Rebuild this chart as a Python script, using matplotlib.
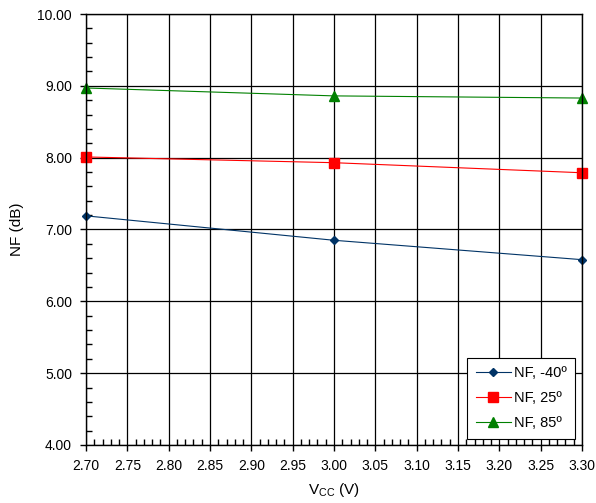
## NF vs VCC at three temperatures
import numpy as np
from matplotlib import pyplot as plt
from matplotlib.ticker import MultipleLocator, FormatStrFormatter

plt.rcParams['font.family'] = ['Liberation Sans', 'DejaVu Sans']

## values
vcc = [2.70, 3.00, 3.30]
nf_m40 = [7.19, 6.85, 6.58]
nf_25 = [8.01, 7.93, 7.79]
nf_85 = [8.97, 8.86, 8.83]
labels = ["NF, -40º", "NF, 25º", "NF, 85º"]

fig = plt.figure(figsize=(5.96, 5.03), dpi=100)
ax = fig.add_axes([86/596, 1-445/503, (582-86)/596, (445-14)/503])

ax.plot(vcc, nf_m40, color="#003366", marker="D", markersize=4.5, lw=0.8, label=labels[0])
ax.plot(vcc, nf_25, color="#ff0000", marker="s", markersize=6.5, lw=0.8, label=labels[1])
ax.plot(vcc, nf_85, color="#008000", marker="^", markersize=6.5, lw=0.8, label=labels[2])
for l in ax.lines:
    l.set_clip_on(False)

ax.set_xlim(2.70, 3.30)
ax.set_ylim(4.0, 10.0)
ax.xaxis.set_major_locator(MultipleLocator(0.05))
ax.xaxis.set_minor_locator(MultipleLocator(0.01))
ax.yaxis.set_major_locator(MultipleLocator(1.0))
ax.yaxis.set_minor_locator(MultipleLocator(0.2))
ax.xaxis.set_major_formatter(FormatStrFormatter('%.2f'))
ax.yaxis.set_major_formatter(FormatStrFormatter('%.2f'))
ax.tick_params(which='major', direction='out', length=4, width=1, labelsize=10, pad=6)
ax.tick_params(which='minor', direction='in', length=4, width=1)
ax.grid(which='major', color='black', lw=0.9)
for s in ax.spines.values():
    s.set_linewidth(1)

ax.set_xlabel("V$_{\\mathregular{CC}}$ (V)", fontsize=11, labelpad=6)
ax.set_ylabel("NF (dB)", fontsize=11, labelpad=10)

leg = ax.legend(loc='lower right', fontsize=10.5, handlelength=2.4, fancybox=False,
                framealpha=1, edgecolor='black', borderpad=0.6, labelspacing=0.75,
                handletextpad=0.2, borderaxespad=0, bbox_to_anchor=(0.986, 0.014))
leg.get_frame().set_linewidth(0.8)

plt.savefig("out.png", dpi=100)
